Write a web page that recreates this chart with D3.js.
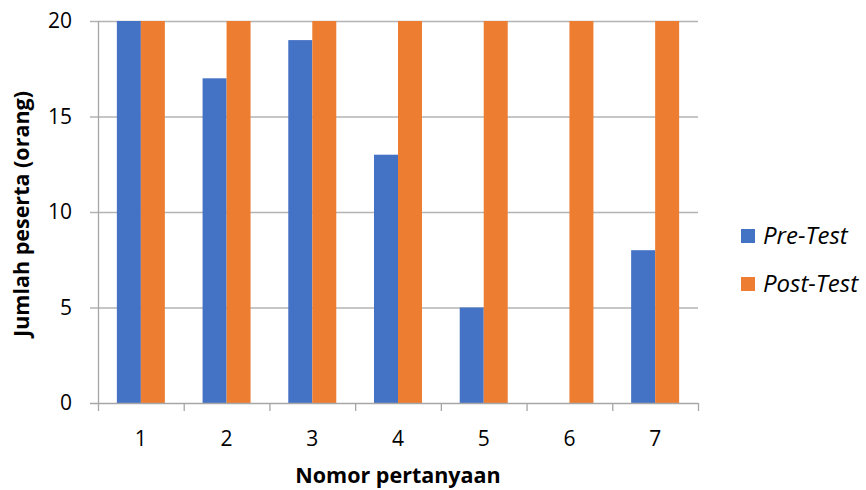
<!DOCTYPE html>
<html><head><meta charset="utf-8">
<script src="https://cdn.jsdelivr.net/npm/d3@7"></script>
<style>body{margin:0;background:#fff}svg{display:block;font-family:"Open Sans",sans-serif}</style>
</head><body><svg id="c" width="866" height="490"></svg>
<script>
const categories = ["1","2","3","4","5","6","7"];
const preTest = [20,17,19,13,5,0,8];
const postTest = [20,20,20,20,20,20,20];
const seriesNames = ["Pre-Test","Post-Test"];
const colors = ["#4472C4","#ED7D31"];
const yTicks = [0,5,10,15,20];

const svg = d3.select("#c");
const L=98, R=698, T=21, B=403;
const x = d3.scaleBand().domain(categories).range([L,R]);
const y = d3.scaleLinear().domain([0,20]).range([B,T]);
const bw = 24;

svg.append("g").selectAll("line").data(yTicks.filter(d=>d>0)).join("line")
  .attr("x1",L-8).attr("x2",R).attr("y1",d=>y(d)+0.5).attr("y2",d=>y(d)+0.5)
  .attr("stroke","#b3b3b3").attr("stroke-width",1.3);

const series=[preTest,postTest];
series.forEach((vals,si)=>{
  svg.append("g").selectAll("rect").data(categories).join("rect")
    .attr("x",(d,i)=>x(d)+x.bandwidth()/2 - bw + si*bw)
    .attr("y",(d,i)=>y(vals[i]))
    .attr("width",bw)
    .attr("height",(d,i)=>B-y(vals[i]))
    .attr("fill",colors[si]);
});

svg.append("line").attr("x1",L+0.5).attr("x2",L+0.5).attr("y1",T).attr("y2",B)
  .attr("stroke","#a6a6a6").attr("stroke-width",1.3);
svg.append("line").attr("x1",L-8).attr("x2",R).attr("y1",B+0.5).attr("y2",B+0.5)
  .attr("stroke","#a6a6a6").attr("stroke-width",1.3);
const bounds = categories.map(c=>x(c)).concat([R]);
svg.append("g").selectAll("line").data(bounds).join("line")
  .attr("x1",d=>d+0.5).attr("x2",d=>d+0.5).attr("y1",B).attr("y2",B+8)
  .attr("stroke","#a6a6a6").attr("stroke-width",1.3);

svg.append("g").selectAll("text").data(yTicks).join("text")
  .attr("x",72).attr("y",d=>y(d)+7).attr("text-anchor","end")
  .attr("font-size",21).attr("fill","#000").text(d=>d);
svg.append("g").selectAll("text").data(categories).join("text")
  .attr("x",d=>x(d)+x.bandwidth()/2).attr("y",446).attr("text-anchor","middle")
  .attr("font-size",21).attr("fill","#000").text(d=>d);

svg.append("text").attr("x",(L+R)/2).attr("y",483).attr("text-anchor","middle")
  .attr("font-size",21.5).attr("font-weight","bold").text("Nomor pertanyaan");
svg.append("text").attr("transform","translate(29,214) rotate(-90)").attr("text-anchor","middle")
  .attr("font-size",21.5).attr("font-weight","bold").text("Jumlah peserta (orang)");

const lg = svg.append("g");
seriesNames.forEach((n,i)=>{
  const yy = 236 + i*48;
  lg.append("rect").attr("x",741).attr("y",yy-7).attr("width",14).attr("height",14).attr("fill",colors[i]);
  lg.append("text").attr("x",763).attr("y",yy+8).attr("font-size",24).attr("font-style","italic").text(n);
});
</script></body></html>
